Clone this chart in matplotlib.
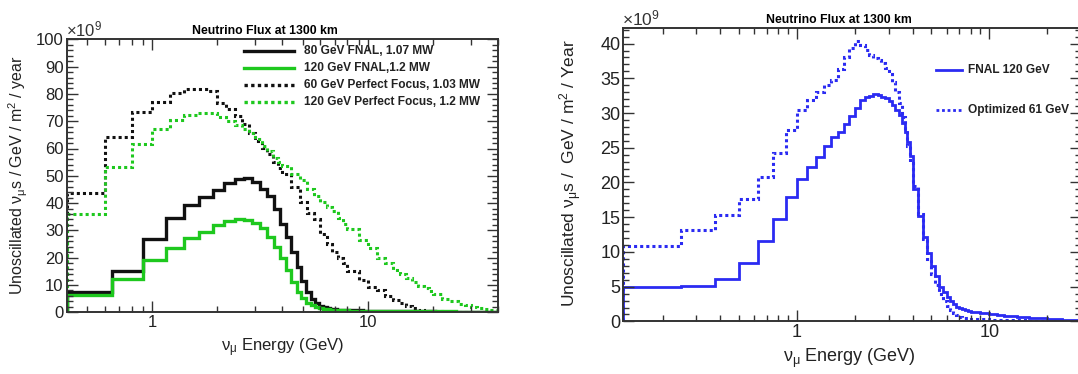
import numpy as np
import matplotlib
matplotlib.use("Agg")
import matplotlib.pyplot as plt
from matplotlib.ticker import MultipleLocator, LogLocator, NullFormatter, FixedLocator, FixedFormatter

plt.rcParams['font.family'] = ['Liberation Sans', 'DejaVu Sans']
plt.rcParams['mathtext.fontset'] = 'custom'
plt.rcParams['mathtext.rm'] = 'Liberation Sans'
plt.rcParams['mathtext.default'] = 'regular'

# ============== DATA (units of 1e9 nu_mu / GeV / m^2 / year) ==============
# ---- left panel: FNAL beams (0.25 GeV bins, coarser tail) ----
edges_fnal = np.concatenate([np.arange(0.4, 8.4, 0.25),
                             [8.4, 9.4, 10.4, 12.4, 14.4, 17.4, 20.4, 25.4, 30.4, 35.4, 40.4]])
flux_80_fnal = [7.3, 15.2, 26.7, 34.7, 39.3, 42.4, 44.8, 47.2, 48.8, 49.2,
                47.8, 45.3, 42.5, 38.0, 32.5, 27.5, 22.0, 16.5, 11.5, 7.5,
                4.8, 3.3, 2.4, 1.9, 1.5, 1.3, 1.1, 1.0, 0.9, 0.85,
                0.8, 0.75,
                0.7, 0.65, 0.55, 0.5, 0.4, 0.35, 0.25, 0.2, 0.15, 0.1]
flux_120_fnal = [6.3, 12.1, 19.2, 23.4, 27.1, 29.5, 32.0, 33.6, 34.1, 33.8,
                 32.6, 30.8, 27.7, 24.0, 19.8, 15.5, 11.2, 7.5, 5.1, 3.5,
                 2.5, 1.9, 1.5, 1.25, 1.1, 1.0, 0.9, 0.85, 0.8, 0.75,
                 0.7, 0.65,
                 0.6, 0.55, 0.5, 0.45, 0.4, 0.35, 0.3, 0.25, 0.2, 0.15]

# ---- left panel: perfect focus beams (0.2 GeV bins, coarser tail) ----
edges_pf = np.concatenate([np.arange(0.4, 4.0, 0.2), np.arange(4.0, 8.0, 0.4),
                           np.arange(8.0, 20.0, 1.0), np.arange(20.0, 40.1, 2.0)])
flux_60_pf = [43.6, 64.1, 73.5, 77.1, 80.2, 81.7, 81.9, 81.0, 76.5, 74.5,
              71.8, 69.0, 65.8, 62.8, 60.3, 58.0, 55.2, 53.0,
              50.5, 46.0, 40.5, 36.5, 34.0, 28.5, 25.0, 22.0, 19.8, 18.0,
              15.0, 11.8, 9.3, 8.2, 6.0, 4.6, 3.3, 2.3, 1.5, 0.8, 0.5, 0.4,
              0.3, 0.25, 0.2, 0.2, 0.15, 0.1, 0.1, 0.05, 0.05, 0.05]
flux_120_pf = [35.9, 53.3, 61.6, 67.0, 70.5, 72.3, 73.1, 72.9, 71.4, 70.0,
               68.5, 67.0, 65.5, 63.5, 61.0, 59.0, 56.5, 55.0,
               53.5, 50.5, 48.5, 45.0, 42.5, 40.5, 38.5, 37.0, 34.5, 32.5,
               30.5, 26.5, 23.5, 20.0, 18.0, 15.5, 14.0, 12.5, 11.0, 9.8, 8.8, 7.8,
               6.8, 5.0, 4.0, 3.0, 2.5, 2.0, 1.6, 1.2, 1.0, 0.8]

# ---- right panel (0.125 GeV bins, coarser tail) ----
edges_r = np.concatenate([np.arange(0.125, 4.0, 0.125), np.arange(4.0, 8.0, 0.25),
                          np.arange(8.0, 16.0, 1.0), [16.0, 20.0, 24.0, 28.0, 32.0]])
flux_fnal_120 = [4.95, 5.1, 6.1, 8.4, 11.6, 14.8, 17.9, 20.5, 22.2, 23.7,
                 25.2, 26.6, 27.3, 28.4, 29.6, 30.7, 31.9, 32.3, 32.5, 32.7,
                 32.6, 32.3, 32.1, 31.7, 31.2, 30.5, 29.7, 28.6, 27.3, 25.9, 23.8,
                 19.0, 15.2, 12.2, 9.8, 8.0, 6.5, 5.0, 4.2, 3.5, 3.0, 2.5, 2.1,
                 1.9, 1.75, 1.6, 1.45,
                 1.3, 1.15, 1.0, 0.9, 0.8, 0.72, 0.65, 0.58,
                 0.48, 0.36, 0.27, 0.2]
flux_opt_61 = [10.85, 13.15, 15.3, 17.6, 20.8, 24.2, 27.5, 30.4, 31.9, 33.1,
               34.0, 34.8, 36.4, 38.1, 39.3, 40.4, 39.8, 39.1, 38.4, 37.9,
               37.6, 37.2, 36.5, 35.6, 34.5, 33.1, 31.4, 29.5, 27.6, 25.2, 22.8,
               19.5, 15.5, 11.8, 9.0, 6.8, 5.2, 3.9, 2.9, 2.2, 1.6, 1.2, 0.9,
               0.7, 0.55, 0.47, 0.4,
               0.35, 0.3, 0.27, 0.24, 0.21, 0.19, 0.17, 0.15,
               0.12, 0.1, 0.08, 0.06]

# ============== STYLE ==============
W, H = 1078, 374
green = '#1ec81e'
blue = '#2b2bf2'
dots = (0, (1, 1))
frame_col = '#333333'


def px_axes(fig, x0, x1, y0, y1):
    # axes box given in pixel coords of the picture (y from top)
    return fig.add_axes([x0 / W, (H - y1) / H, (x1 - x0) / W, (y1 - y0) / H])


def root_style(ax, ymajor, yminor, fs):
    ax.set_xscale('log')
    ax.xaxis.set_major_locator(FixedLocator([1, 10]))
    ax.xaxis.set_major_formatter(FixedFormatter(['1', '10']))
    ax.xaxis.set_minor_locator(LogLocator(base=10, subs=np.arange(2, 10)))
    ax.xaxis.set_minor_formatter(NullFormatter())
    ax.yaxis.set_major_locator(MultipleLocator(ymajor))
    ax.yaxis.set_minor_locator(MultipleLocator(yminor))
    ax.tick_params(which='both', direction='in', top=True, right=True,
                   color=frame_col, labelsize=fs, labelcolor='#222222', width=1.0)
    ax.tick_params(which='major', length=8, pad=2)
    ax.tick_params(which='minor', length=4)
    for s in ax.spines.values():
        s.set_color(frame_col)
        s.set_linewidth(1.4)


fig = plt.figure(figsize=(W / 100, H / 100), dpi=100)

# ============== LEFT PANEL ==============
ax1 = px_axes(fig, 66.5, 498.4, 39.3, 312.3)
ax1.stairs(flux_60_pf, edges_pf, baseline=0, color='#111111', lw=2.2, ls=dots)
ax1.stairs(flux_120_pf, edges_pf, baseline=0, color=green, lw=2.2, ls=dots)
ax1.stairs(flux_80_fnal, edges_fnal, baseline=0, color='#111111', lw=2.4)
ax1.stairs(flux_120_fnal, edges_fnal, baseline=0, color=green, lw=2.4)
ax1.set_xlim(0.4, 40)
ax1.set_ylim(0, 100)
root_style(ax1, 10, 2, 12)
ax1.set_title('Neutrino Flux at 1300 km', fontsize=8.8, fontweight='bold', pad=4, x=0.46)
ax1.text(-0.002, 1.0, r'$\times10^{9}$', transform=ax1.transAxes, fontsize=12,
         color='#333333', ha='left', va='bottom')
fig.text(18 / W, (H - 175) / H, r'Unoscillated $\nu_{\mu}$s / GeV / m$^{2}$ / year',
         rotation=90, ha='center', va='center', fontsize=11.5, color='#222222')
fig.text(282 / W, (H - 348) / H, r'$\nu_{\mu}$ Energy (GeV)', ha='center', va='center',
         fontsize=12, color='#222222')

legend_left = [('80 GeV FNAL, 1.07 MW', '#111111', '-'),
               ('120 GeV FNAL,1.2 MW', green, '-'),
               ('60 GeV Perfect Focus, 1.03 MW', '#111111', dots),
               ('120 GeV Perfect Focus, 1.2 MW', green, dots)]
for i, (lab, col, ls) in enumerate(legend_left):
    yy = (312.3 - (50.7 + 17.2 * i)) / 273.0
    ax1.plot([(244 - 66.5) / 431.9, (294 - 66.5) / 431.9], [yy, yy], color=col, ls=ls,
             lw=2.4, transform=ax1.transAxes)
    ax1.text((304 - 66.5) / 431.9, yy, lab, transform=ax1.transAxes, fontsize=8.6,
             fontweight='bold', va='center', ha='left', color='#222222')

# ============== RIGHT PANEL ==============
ax2 = px_axes(fig, 623.3, 1081, 28.3, 321.4)
ax2.stairs(flux_opt_61, edges_r, baseline=0, color=blue, lw=2.2, ls=dots)
ax2.stairs(flux_fnal_120, edges_r, baseline=0, color=blue, lw=2.0)
ax2.set_xlim(0.125, 30)
ax2.set_ylim(0, 42.2)
root_style(ax2, 5, 1, 13)
ax2.set_title('Neutrino Flux at 1300 km', fontsize=8.8, fontweight='bold', pad=4, x=0.47)
ax2.text(-0.002, 1.0, r'$\times10^{9}$', transform=ax2.transAxes, fontsize=12.5,
         color='#333333', ha='left', va='bottom')
fig.text(571 / W, (H - 173) / H, r'Unoscillated $\nu_{\mu}$s /  GeV / m$^{2}$ / Year',
         rotation=90, ha='center', va='center', fontsize=12.5, color='#222222')
fig.text(849 / W, (H - 358) / H, r'$\nu_{\mu}$ Energy (GeV)', ha='center', va='center',
         fontsize=13, color='#222222')

legend_right = [('FNAL 120 GeV', '-'), ('Optimized 61 GeV', dots)]
for i, (lab, ls) in enumerate(legend_right):
    yy = (321.4 - (70 + 40 * i)) / 293.1
    ax2.plot([(936 - 623.3) / 457.7, (962 - 623.3) / 457.7], [yy, yy], color=blue, ls=ls,
             lw=2.0, transform=ax2.transAxes)
    ax2.text((968 - 623.3) / 457.7, yy, lab, transform=ax2.transAxes, fontsize=8.6,
             fontweight='bold', va='center', ha='left', color='#222222')

fig.savefig('out.png', dpi=100)
